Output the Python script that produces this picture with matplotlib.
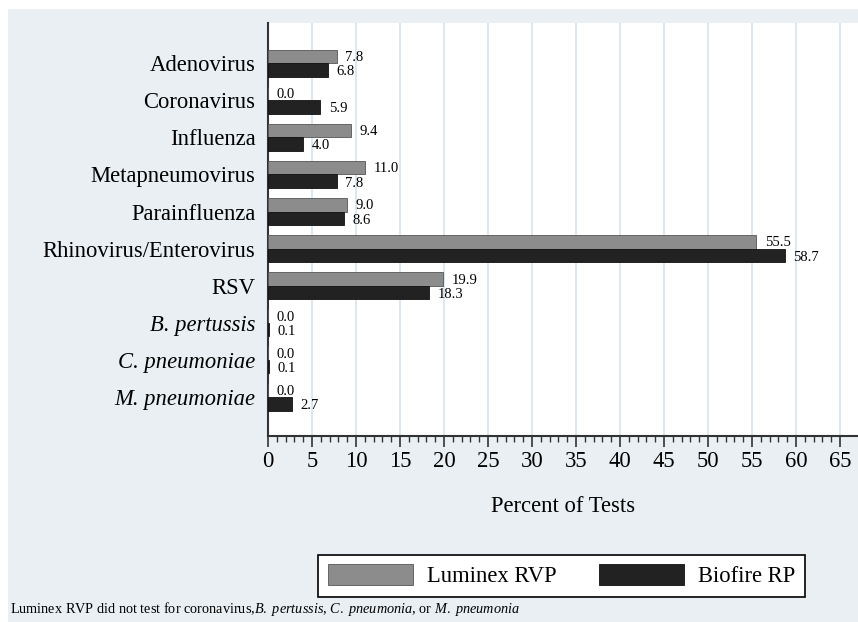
import matplotlib.pyplot as plt
import numpy as np
from matplotlib.patches import Rectangle
from matplotlib.ticker import FixedLocator

# -----------------------------
# Data
# -----------------------------
categories = [
    "Adenovirus", "Coronavirus", "Influenza", "Metapneumovirus", "Parainfluenza",
    "Rhinovirus/Enterovirus", "RSV", "B. pertussis", "C. pneumoniae", "M. pneumoniae",
]
italic_cats = ["B. pertussis", "C. pneumoniae", "M. pneumoniae"]
luminex = [7.8, 0.0, 9.4, 11.0, 9.0, 55.5, 19.9, 0.0, 0.0, 0.0]
biofire = [6.8, 5.9, 4.0, 7.8, 8.6, 58.7, 18.3, 0.1, 0.1, 2.7]
series_names = ["Luminex RVP", "Biofire RP"]
x_ticks = list(range(0, 70, 5))

# -----------------------------
# Style
# -----------------------------
BG = "#e9eff3"
GRID = "#dce7ef"
GRAY = "#8c8c8c"
DARK = "#222222"
SERIF = "Liberation Serif"

plt.rcParams["font.family"] = SERIF
plt.rcParams["mathtext.fontset"] = "custom"
plt.rcParams["mathtext.rm"] = SERIF
plt.rcParams["mathtext.it"] = SERIF + ":italic"

fig = plt.figure(figsize=(8.58, 6.22), dpi=100, facecolor="white")
fig.patches.append(Rectangle((8 / 858, 0), 1 - 8 / 858, 1 - 9 / 622,
                             transform=fig.transFigure, facecolor=BG,
                             edgecolor="none", zorder=-10))

ax = fig.add_axes([268 / 858, 1 - 436 / 622, (858 - 268) / 858, (436 - 23) / 622])
ax.set_facecolor("white")

y = np.arange(len(categories))
h = 0.364
ax.barh(y - h / 2, luminex, height=h, color=GRAY, edgecolor="#555555", linewidth=0.6,
        label=series_names[0], zorder=3)
ax.barh(y + h / 2, biofire, height=h, color=DARK, edgecolor="#111111", linewidth=0.6,
        label=series_names[1], zorder=3)

for i, (a, b) in enumerate(zip(luminex, biofire)):
    ax.text(a + 1.0, i - h / 2 + 0.03, f"{a:.1f}", fontsize=10.5, va="center", ha="left")
    ax.text(b + 1.0, i + h / 2 + 0.05, f"{b:.1f}", fontsize=10.5, va="center", ha="left")

ax.set_xlim(0, 590 / 8.8)
ax.set_ylim(len(categories) - 1 + 1.05, -1.08)
ax.set_yticks(y)
ax.set_yticklabels(categories, fontsize=16.3)
for lbl in ax.get_yticklabels():
    if lbl.get_text() in italic_cats:
        lbl.set_style("italic")
ax.tick_params(axis="y", length=0, pad=9)

ax.set_xticks(x_ticks)
ax.set_xticklabels([str(t) for t in x_ticks], fontsize=16.3)
ax.xaxis.set_minor_locator(FixedLocator(range(0, 66)))
ax.tick_params(axis="x", which="major", length=8, width=1.2, color="#333333", pad=3)
ax.tick_params(axis="x", which="minor", length=4, width=1.0, color="#333333")

for t in x_ticks[1:]:
    ax.axvline(t, color=GRID, linewidth=1.4, zorder=0)

for side in ["top", "right"]:
    ax.spines[side].set_visible(False)
ax.spines["left"].set_color("#333333")
ax.spines["left"].set_linewidth(1.5)
ax.spines["bottom"].set_color("#333333")
ax.spines["bottom"].set_linewidth(1.5)

ax.set_xlabel("Percent of Tests", fontsize=16.3)
ax.xaxis.set_label_coords(0.5, (436 - 496) / 413)

leg = fig.legend(loc="lower left", bbox_to_anchor=(318 / 858, 1 - 597 / 622),
                 ncol=2, fontsize=16.3, frameon=True, fancybox=False,
                 edgecolor="black", facecolor="white", framealpha=1,
                 handlelength=3.76, handleheight=1.02, borderpad=0.42, borderaxespad=0,
                 handletextpad=0.62, columnspacing=1.9)
leg.get_frame().set_linewidth(1.2)

fig.text(10 / 858, 1 - 609 / 622,
         r"Luminex RVP did not test for coronavirus,$\it{B.\ pertussis}$, "
         r"$\it{C.\ pneumonia}$, or $\it{M.\ pneumonia}$",
         fontsize=10.3, va="center", ha="left")

fig.savefig("out.png", dpi=100, facecolor=fig.get_facecolor())
